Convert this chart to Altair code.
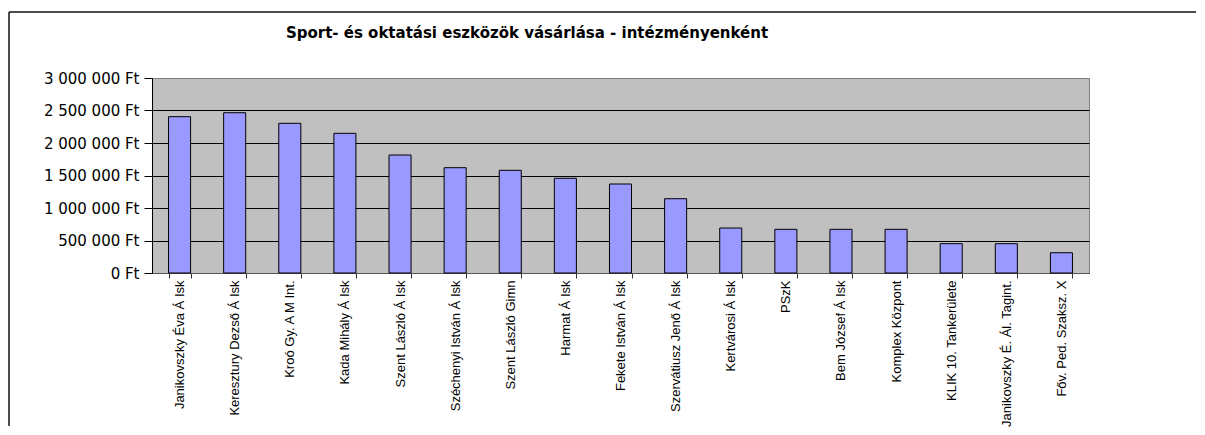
import altair as alt
import pandas as pd

categories = [
    "Janikovszky Éva  Á Isk",
    "Keresztury Dezső Á Isk",
    "Kroó Gy. A M Int.",
    "Kada Mihály Á Isk",
    "Szent László Á Isk",
    "Széchenyi István Á Isk",
    "Szent László Gimn",
    "Harmat Á Isk",
    "Fekete István Á Isk",
    "Szervátiusz Jenő Á Isk",
    "Kertvárosi Á Isk",
    "PSzK",
    "Bem József Á Isk",
    "Komplex Központ",
    "KLIK 10. Tankerülete",
    "Janikovszky É. Ál. Tagint.",
    "Főv. Ped. Szaksz. X",
]
values = [2405000, 2466000, 2303000, 2149000, 1815000, 1620000, 1580000,
          1457000, 1369000, 1143000, 692000, 672000, 672000, 672000,
          451000, 451000, 312000]

tick_values = [0, 500000, 1000000, 1500000, 2000000, 2500000, 3000000]
tick_labels = ["0 Ft", "500 000 Ft", "1 000 000 Ft", "1 500 000 Ft",
               "2 000 000 Ft", "2 500 000 Ft", "3 000 000 Ft"]

title_text = "Sport- és oktatási eszközök vásárlása - intézményenként"

df = pd.DataFrame({"intezmeny": categories, "osszeg": values})

label_expr = ""
for v, l in zip(tick_values, tick_labels):
    label_expr += f"datum.value == {v} ? '{l}' : "
label_expr += "''"

bars = alt.Chart(df).mark_bar(
    fill="#9999FF", stroke="black", strokeWidth=1
).encode(
    x=alt.X("intezmeny:N", sort=categories, title=None,
            scale=alt.Scale(paddingInner=0.6, paddingOuter=0.3),
            axis=alt.Axis(labelAngle=-90, labelFont="Liberation Sans",
                          labelFontSize=13, labelColor="black",
                          tickBand="extent", tickSize=5, tickColor="#333333",
                          domainColor="#555555", labelPadding=2,
                          labelLimit=300, grid=False)),
    y=alt.Y("osszeg:Q", title=None,
            scale=alt.Scale(domain=[0, 3000000], nice=False),
            axis=alt.Axis(values=tick_values, labelExpr=label_expr,
                          labelFont="DejaVu Sans", labelFontSize=15,
                          labelColor="black", tickSize=8, tickColor="black",
                          domainColor="black", labelPadding=5,
                          grid=True,
                          gridColor={"condition": {"test": "datum.value === 3000000",
                                                   "value": "#808080"},
                                     "value": "black"},
                          gridWidth=1)),
)

deco = alt.Data(values=[{"f": 1}])

left_line = alt.Chart(deco).mark_rule(color="#111111", strokeWidth=1.5).encode(
    x=alt.value(-143), y=alt.value(-66), y2=alt.value(348)
)
top_line = alt.Chart(deco).mark_rule(color="#111111", strokeWidth=1.5).encode(
    x=alt.value(-143), x2=alt.value(1044), y=alt.value(-66)
)
title = alt.Chart(deco).mark_text(
    text=title_text, font="DejaVu Sans", fontSize=15, fontWeight="bold",
    align="center", baseline="alphabetic", color="black"
).encode(x=alt.value(375), y=alt.value(-40))

chart = alt.layer(bars, left_line, top_line, title).properties(
    width=937, height=195,
    autosize="none",
    padding={"left": 144, "top": 70, "right": 108, "bottom": 154},
).configure(background="white").configure_view(
    fill="#C0C0C0", stroke="#808080", strokeWidth=1
)

chart.save("out.html", embed_options={"renderer": "svg", "actions": False})
